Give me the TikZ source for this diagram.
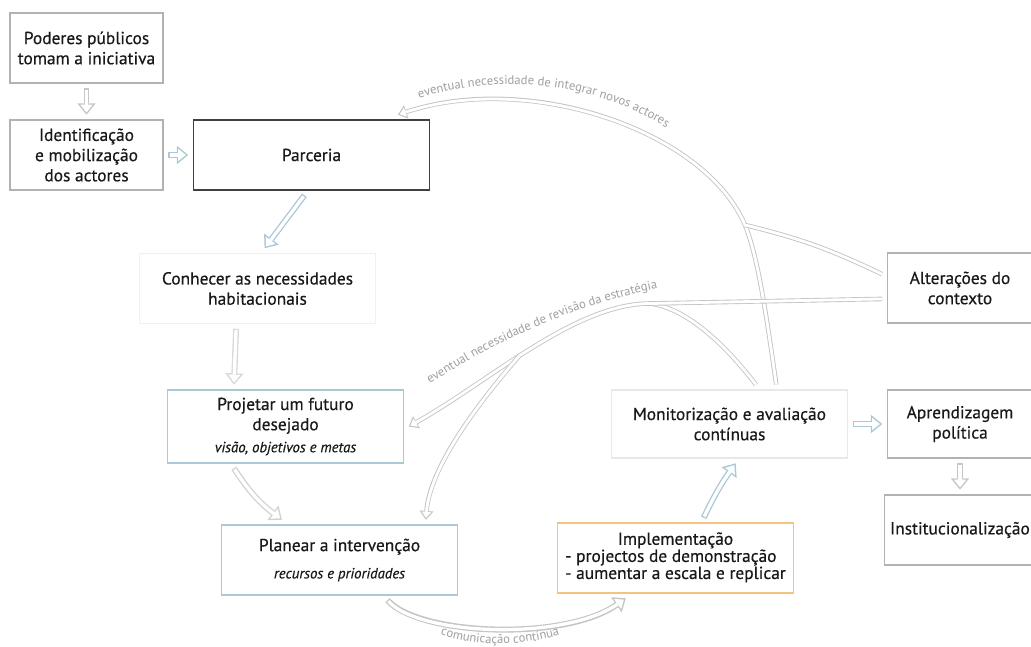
\documentclass[tikz,border=0pt]{standalone}
\usepackage{fontspec}
\setmainfont{PT Sans}
\newfontfamily\boxfont{PT Sans}[FakeBold=0.45]
\usetikzlibrary{arrows.meta, decorations.text}

\definecolor{lineblue}{RGB}{170,200,214}
\definecolor{lineorange}{RGB}{245,195,128}
\definecolor{arcgray}{RGB}{196,196,196}

\tikzset{
  box/.style={draw=#1, fill=white, line width=0.9pt, align=center,
    minimum width=4.72cm, minimum height=1.4cm, outer sep=3pt,
    text=black!90, font=\boxfont\fontsize{9.9}{11.5}\selectfont},
  box/.default=gray!60,
  smallbox/.style={box=#1, minimum width=3.06cm},
  smallbox/.default=gray!60,
  sidebox/.style={box=#1, minimum width=2.9cm},
  sidebox/.default=gray!60,
  hollow/.style={draw=#1, line width=3.4pt,
    -{Triangle[length=6.5pt, width=10.5pt, line width=0pt]},
    postaction={draw=white, line width=1.9pt, shorten <=0.75pt, shorten >=1.3pt,
      -{Triangle[length=4.4pt, width=7pt, line width=0pt]}}},
  hollow/.default=gray!45,
  arcline/.style={draw=#1, line width=2.6pt,
    -{Triangle[length=5pt, width=8pt, line width=0pt]},
    postaction={draw=white, line width=1.6pt, shorten >=1.1pt,
      -{Triangle[length=3.4pt, width=5.4pt, line width=0pt]}}},
  arcline/.default=arcgray,
  arcjoin/.style={draw=#1, line width=2.6pt,
    postaction={draw=white, line width=1.6pt}},
  arcjoin/.default=arcgray,
  arclabel/.style={decorate, decoration={text along path, text align=center,
    text={|\fontsize{7.2}{8}\selectfont\color{gray!75}|#1}}}
}

\begin{document}
\begin{tikzpicture}
\useasboundingbox (0,0) rectangle (20.62,12.92);

% Left column
\node[smallbox] (pod) at (1.73,11.96) {Poderes públicos\\tomam a iniciativa};
\node[smallbox] (ident) at (1.73,9.82) {Identificação\\e mobilização\\dos actores};

% The cycle
\node[box=black!75, line width=1pt] (parc) at (6.23,9.82) {Parceria};
\node[box=gray!12] (conh) at (5.15,7.15) {Conhecer as necessidades\\habitacionais};
\node[box=lineblue, minimum height=1.46cm] (proj) at (5.71,4.39)
  {Projetar um futuro\\desejado\\[1pt]{\fontsize{8.4}{9}\selectfont\itshape visão, objetivos e metas}};
\node[box=lineblue] (plan) at (6.79,1.72)
  {Planear a intervenção\\[4pt]{\fontsize{8.4}{9}\selectfont\itshape recursos e prioridades}};
\node[box=lineorange] (impl) at (13.51,1.76)
  {{\def\arraystretch{0.78}\begin{tabular}{@{}l@{}}\multicolumn{1}{@{}c@{}}{Implementação}\\- projectos de demonstração\\- aumentar a escala e replicar\end{tabular}}};
\node[box=gray!18, minimum height=1.36cm] (moni) at (14.59,4.44) {Monitorização e avaliação\\contínuas};

% Right column
\node[sidebox] (alte) at (19.2,7.16) {Alterações do\\contexto};
\node[sidebox, minimum height=1.36cm] (apre) at (19.2,4.44) {Aprendizagem\\política};
\node[sidebox] (inst) at (19.2,2.32) {Institucionalização};

% Feedback arcs
\draw[arcline] (moni.40) .. controls (15.3,6.8) and (15.15,7.8) .. (14.9,8.42) coordinate (j1)
  .. controls (14.1,10.3) and (10.6,11.5) .. (parc.25);
\draw[arcline] (moni.56) .. controls (14.6,5.9) and (13.8,6.75) .. (13.0,6.85) coordinate (j2)
  .. controls (11.5,6.85) and (9.8,5.3) .. coordinate[pos=0.55] (j3) (proj.east);
\draw[arcline] (j3) .. controls (9.6,4.9) and (8.6,3.6) .. (plan.25);
\draw[arcjoin] (alte.170) to[bend right=6] (j1);
\draw[arcjoin] (alte.188) -- (j2);

% Labels on the arcs
\path[arclabel={eventual necessidade de integrar novos actores}]
  (7.95,10.8) .. controls (9.4,11.4) and (11.8,11.55) .. (13.7,10.1);
\path[arclabel={eventual necessidade de revisão da estratégia}]
  (8.3,5.05) .. controls (9.65,5.95) and (11.3,6.82) .. (13.5,7.22);
\path[arclabel={comunicação contínua}]
  (8.7,0.26) .. controls (9.5,-0.02) and (10.5,-0.02) .. (11.3,0.26);

% Arrows between the boxes
\draw[hollow] (pod) -- (ident);
\draw[hollow=lineblue] (ident) -- (parc);
\draw[hollow=lineblue] (parc.-100) -- (conh.80);
\draw[hollow=gray!30] (conh.-118) -- (proj.141);
\draw[hollow=gray!35] (proj.-141) to[bend right=10] (plan.145);
\draw[hollow=arcgray] (plan.-40) .. controls (8.4,0.2) and (11.3,0.1) .. (impl.-141);
\draw[hollow=lineblue] (impl.55) to[bend left=5] (moni.-81);
\draw[hollow=lineblue] (moni) -- (apre);
\draw[hollow] (apre) -- (inst);

\end{tikzpicture}
\end{document}
